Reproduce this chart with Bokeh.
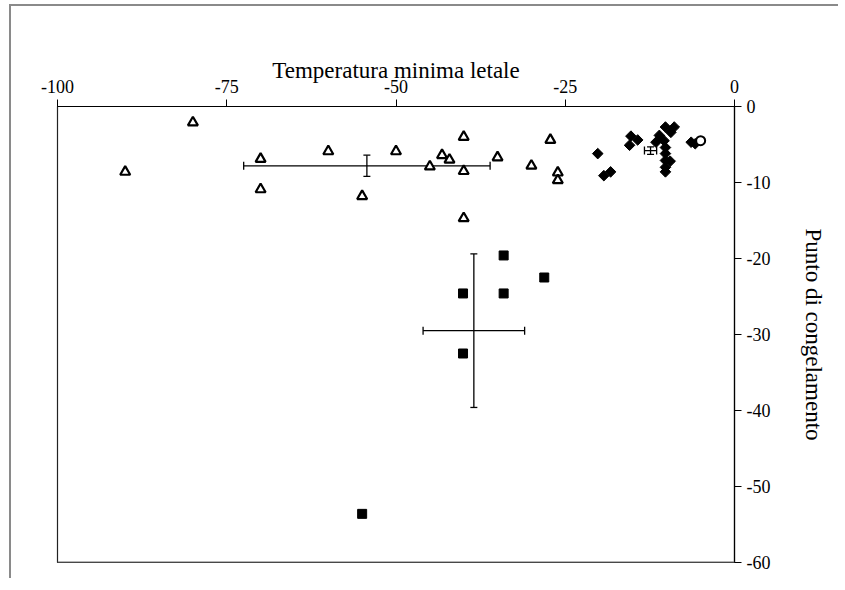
import math
from bokeh.plotting import figure
from bokeh.models import (Range1d, FixedTicker, Whisker, ColumnDataSource, TeeHead, Span,
                          CustomJSTickFormatter)
from bokeh.embed import file_html
from bokeh.resources import INLINE

# ---- data ----
tri_x = [-90, -80, -70, -70, -60, -55, -50, -45, -43.2, -42.1, -40, -40, -40, -35, -30, -27.2, -26.1, -26.1]
tri_y = [-8.6, -2.1, -6.9, -10.9, -5.9, -11.8, -5.9, -7.9, -6.4, -7.0, -4.0, -8.5, -14.7, -6.7, -7.8, -4.4, -8.7, -9.7]

sq_x = [-34.1, -28.1, -40.1, -34.1, -40.1, -55]
sq_y = [-19.6, -22.5, -24.6, -24.6, -32.5, -53.6]

dia_x = [-20.2, -19.3, -18.3, -15.3, -14.3, -15.5, -10.2, -8.9, -9.4, -11.1, -11.6, -10.4, -10.2, -10.2,
         -10.2, -9.5, -10.2, -10.2, -6.4, -5.8]
dia_y = [-6.2, -9.1, -8.6, -3.9, -4.4, -5.1, -2.7, -2.7, -3.4, -3.8, -4.7, -4.5, -5.4, -6.2,
         -7.1, -7.2, -8.0, -8.6, -4.7, -4.9]

circ_x = [-5.0]
circ_y = [-4.5]

# group means with error bars
mean_x = [-54.3, -38.5, -12.4]
mean_y = [-7.8, -29.5, -5.8]
err_x = [18.2, 7.5, 0.9]
err_y = [1.4, 10.1, 0.5]

x_ticks = [-100, -75, -50, -25, 0]
x_tick_labels = ["-100", "-75", "-50", "-25", "0"]
y_ticks = [0, -10, -20, -30, -40, -50, -60]
y_tick_labels = ["0", "-10", "-20", "-30", "-40", "-50", "-60"]

SERIF = "Liberation Serif"

LOOKUP = """
let best = 0, bd = Infinity;
for (let i = 0; i < vals.length; i++) {
  const d = Math.abs(vals[i] - tick);
  if (d < bd) { bd = d; best = i; }
}
return labs[best];
"""

p = figure(width=829, height=574, output_backend="svg", toolbar_location=None,
           x_axis_location="above", y_axis_location="right",
           x_range=Range1d(-100, 0), y_range=Range1d(-60, 0),
           min_border_left=46, min_border_top=100, min_border_right=106, min_border_bottom=18)
p.styles = {"margin-left": "9px", "margin-top": "4px",
            "border-top": "2px solid #8a8a8a", "border-left": "2px solid #8a8a8a"}

p.grid.visible = False
p.background_fill_color = "white"
p.border_fill_color = "white"
p.outline_line_color = "#222222"
p.outline_line_width = 1.2

xa = p.xaxis[0]
xa.ticker = FixedTicker(ticks=x_ticks)
xa.formatter = CustomJSTickFormatter(args=dict(vals=x_ticks, labs=x_tick_labels), code=LOOKUP)
xa.axis_label = "Temperatura minima letale"
ya = p.yaxis[0]
ya.ticker = FixedTicker(ticks=y_ticks)
ya.formatter = CustomJSTickFormatter(args=dict(vals=y_ticks, labs=y_tick_labels), code=LOOKUP)
ya.axis_label = "Punto di congelamento"

for ax in (xa, ya):
    ax.axis_line_color = "black"
    ax.axis_line_width = 1.2
    ax.major_tick_line_color = "black"
    ax.major_tick_in = 0
    ax.major_tick_out = 7
    ax.minor_tick_line_color = None
    ax.major_label_text_font = SERIF
    ax.major_label_text_font_size = "18px"
    ax.major_label_text_color = "black"
    ax.axis_label_text_font = SERIF
    ax.axis_label_text_font_size = "23px"
    ax.axis_label_text_font_style = "normal"
    ax.axis_label_text_color = "black"

xa.major_label_standoff = 7
xa.axis_label_standoff = -6
ya.major_label_standoff = 5
ya.axis_label_standoff = 28

# bottom border of the plot area (grey)
p.add_layout(Span(location=-60, dimension="width", line_color="#6e6e6e", line_width=2))

# error bars
src = ColumnDataSource(dict(
    x=mean_x, y=mean_y,
    xl=[m - e for m, e in zip(mean_x, err_x)], xu=[m + e for m, e in zip(mean_x, err_x)],
    yl=[m - e for m, e in zip(mean_y, err_y)], yu=[m + e for m, e in zip(mean_y, err_y)],
))
p.add_layout(Whisker(source=src, base="y", lower="xl", upper="xu", dimension="width",
                     line_color="black", line_width=1.3,
                     lower_head=TeeHead(size=8, line_color="black", line_width=1.3),
                     upper_head=TeeHead(size=8, line_color="black", line_width=1.3)))
p.add_layout(Whisker(source=src, base="x", lower="yl", upper="yu", dimension="height",
                     line_color="black", line_width=1.3,
                     lower_head=TeeHead(size=7, line_color="black", line_width=1.3),
                     upper_head=TeeHead(size=7, line_color="black", line_width=1.3)))

# series
p.scatter(tri_x, tri_y, marker="triangle", size=10, fill_color="white",
          line_color="black", line_width=2.2)
p.scatter(sq_x, sq_y, marker="square", size=9, fill_color="black", line_color="black")
p.scatter(dia_x, dia_y, marker="square", angle=math.pi / 4, size=7.5,
          fill_color="black", line_color="black")
p.scatter(circ_x, circ_y, marker="circle", size=9, fill_color="white",
          line_color="black", line_width=2)

open("out.html", "w").write(file_html(p, INLINE))
